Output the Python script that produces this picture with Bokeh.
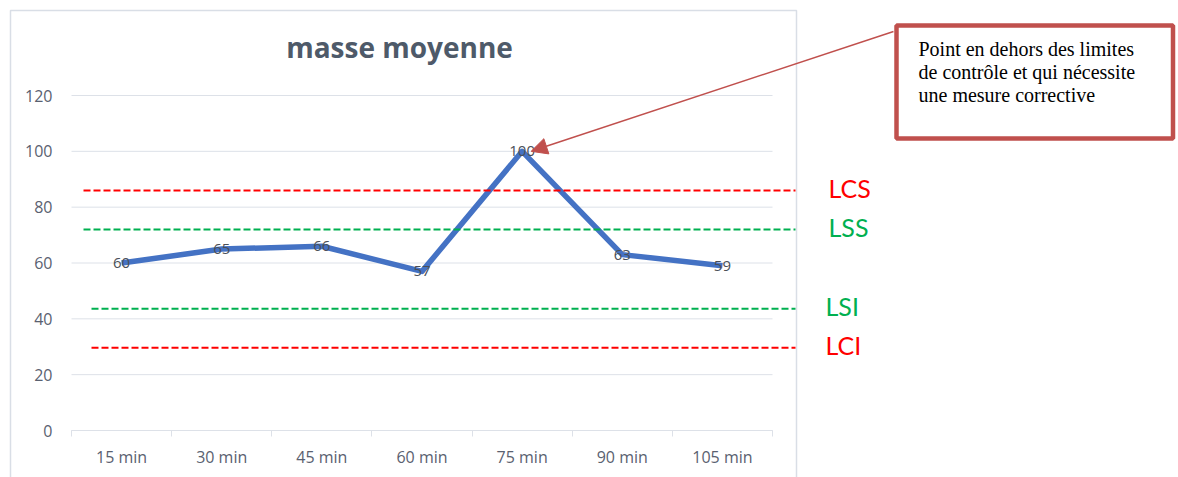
from bokeh.plotting import figure
from bokeh.models import (Range1d, FixedTicker, BoxAnnotation, Label, Arrow, NormalHead,
                          ColumnDataSource)
from bokeh.core.properties import value
from bokeh.embed import file_html
from bokeh.resources import INLINE

# ---- data ----
categories = ["15 min", "30 min", "45 min", "60 min", "75 min", "90 min", "105 min"]
masse = [60, 65, 66, 57, 100, 63, 59]
y_ticks = [0, 20, 40, 60, 80, 100, 120]
limit_names = ["LCS", "LSS", "LSI", "LCI"]
limit_values = [86, 72, 43.6, 29.6]
limit_colors = ["#FF0000", "#00B050", "#00B050", "#FF0000"]
title_text = "masse moyenne"
note_lines = ["Point en dehors des limites",
              "de contrôle et qui nécessite",
              "une mesure corrective"]

W, H = 1178, 477
FL, FR, FT, FB = 71, 772, 95, 430  # plot area edges in pixels
n = len(categories)
YMAX = y_ticks[-1]

def sx(px):
    return (px - FL) * n / (FR - FL)

def sy(py):
    return (FB - py) * YMAX / (FB - FT)

p = figure(width=W, height=H, output_backend="svg", toolbar_location=None,
           x_range=Range1d(sx(0), sx(W)), y_range=Range1d(sy(H), sy(0)),
           min_border=0, min_border_left=0, min_border_right=0,
           min_border_top=0, min_border_bottom=0)
p.outline_line_color = None
p.background_fill_color = "white"
p.border_fill_color = "white"
p.xgrid.grid_line_color = None
p.ygrid.grid_line_color = None

grid_col = "#DDE1E8"
label_col = "#5A6170"

# chart border
p.add_layout(BoxAnnotation(left=sx(10), right=sx(796), top=sy(10), bottom=sy(520),
                           fill_color=None, fill_alpha=0, line_color="#D9DEE6",
                           line_alpha=1, line_width=1.5, level="underlay"))

# horizontal gridlines
p.segment(x0=[0] * len(y_ticks), x1=[n] * len(y_ticks), y0=y_ticks, y1=y_ticks,
          line_color=grid_col, line_width=1)

# x axis
xs = [i + 0.5 for i in range(n)]
p.xaxis.fixed_location = 0
p.xaxis.bounds = (0, n)
p.xaxis.ticker = FixedTicker(ticks=xs, minor_ticks=list(range(n + 1)))
p.xaxis.major_label_overrides = {x: c for x, c in zip(xs, categories)}
p.xaxis.axis_line_color = grid_col
p.xaxis.major_tick_line_color = None
p.xaxis.minor_tick_line_color = grid_col
p.xaxis.minor_tick_out = 6
p.xaxis.minor_tick_in = 0
p.xaxis.major_tick_out = 0
p.xaxis.major_label_standoff = 9
p.xaxis.major_label_text_font = "Open Sans"
p.xaxis.major_label_text_font_size = "16px"
p.xaxis.major_label_text_color = label_col

# y axis
p.yaxis.fixed_location = 0
p.yaxis.bounds = (0, YMAX)
p.yaxis.ticker = FixedTicker(ticks=y_ticks)
p.yaxis.axis_line_color = None
p.yaxis.major_tick_line_color = None
p.yaxis.minor_tick_line_color = None
p.yaxis.major_tick_out = 0
p.yaxis.major_label_standoff = 19
p.yaxis.major_label_text_font = "Open Sans"
p.yaxis.major_label_text_font_size = "16px"
p.yaxis.major_label_text_color = label_col

# limit lines + labels
lim_x0 = [sx(83), sx(83), sx(91), sx(91)]
lab_x = [828, 828, 825, 825]
for name, v, c, x0, lx in zip(limit_names, limit_values, limit_colors, lim_x0, lab_x):
    p.add_layout(Arrow(x_start=x0, y_start=v, x_end=sx(795), y_end=v, end=None,
                       line_color=c, line_width=2, line_dash="7 3"))
    p.add_layout(Label(x=sx(lx), y=v, y_offset=2.5, text=name, text_color=c,
                       text_font="Lato", text_font_size="25px",
                       text_baseline="middle", text_align="left"))

# series
src = ColumnDataSource(dict(x=xs, y=masse, lab=[str(v) for v in masse]))
p.line("x", "y", source=src, line_color="#4472C4", line_width=5.5, line_join="round")
p.text("x", "y", text="lab", source=src, text_align="center", text_baseline="middle",
       text_font=value("Open Sans"), text_font_size="15px", text_color="#4A4F57")

# title
p.add_layout(Label(x=sx(399), y=sy(46), text=title_text, text_align="center",
                   text_baseline="alphabetic", text_font="Open Sans",
                   text_font_style="bold", text_font_size="28px", text_color="#4E5A69"))

# callout arrow
peak = masse.index(max(masse))
p.add_layout(Arrow(x_start=sx(893), y_start=sy(31), x_end=xs[peak] + 0.09, y_end=max(masse),
                   line_color="#C0504D", line_width=1.5,
                   end=NormalHead(size=16, fill_color="#C0504D", line_color="#C0504D")))

# callout box
p.add_layout(BoxAnnotation(left=sx(896), right=sx(1172.5), top=sy(25), bottom=sy(138),
                           fill_color="white", fill_alpha=1, line_color="#C0504D",
                           line_alpha=1, line_width=4.5))
for i, t in enumerate(note_lines):
    p.add_layout(Label(x=sx(918), y=sy(48 + 23 * i), text=t, text_align="left",
                       text_baseline="alphabetic", text_font="Liberation Serif",
                       text_font_size="20px", text_color="black"))

open("out.html", "w").write(file_html(p, INLINE))
